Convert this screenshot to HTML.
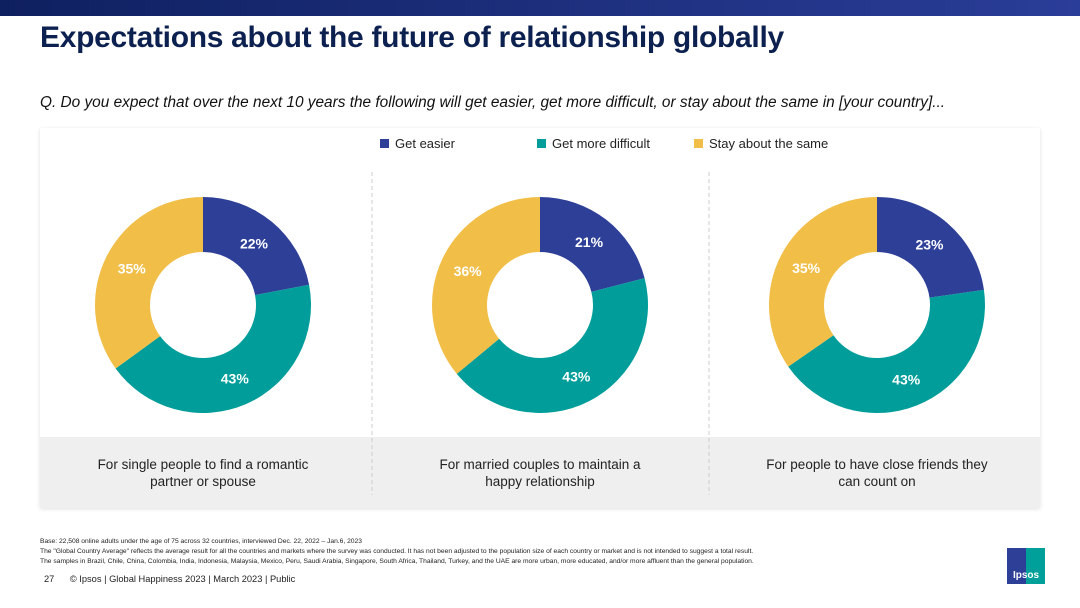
<!DOCTYPE html>
<html><head><meta charset="utf-8"><style>
body{margin:0;width:1080px;height:608px;overflow:hidden;background:#fff;font-family:"Liberation Sans",sans-serif;position:relative}
.abs{position:absolute}
.cap{position:absolute;top:456px;width:300px;text-align:center;font-size:13.5px;line-height:17px;color:#222}
.fn{position:absolute;left:40px;font-size:6.7px;color:#222;white-space:nowrap}
</style></head><body>
<div class="abs" style="left:0;top:0;width:1080px;height:16px;background:linear-gradient(90deg,#0f2060,#2a3d98)"></div>
<div class="abs" style="left:40px;top:21px;font-size:30px;font-weight:bold;color:#0d2150;letter-spacing:-0.3px">Expectations about the future of relationship globally</div>
<div class="abs" style="left:40px;top:94px;font-size:15.4px;font-style:italic;color:#111">Q. Do you expect that over the next 10 years the following will get easier, get more difficult, or stay about the same in [your country]...</div>
<div class="abs" style="left:40px;top:128px;width:1000px;height:380px;background:#fff;box-shadow:0 1px 4px rgba(0,0,0,0.12)"></div>
<div class="abs" style="left:40px;top:437px;width:1000px;height:71px;background:#efefef"></div>
<svg class="abs" style="left:0;top:0" width="1080" height="608" id="chart"></svg>
<div class="cap" style="left:53px">For single people to find a romantic<br>partner or spouse</div>
<div class="cap" style="left:390px">For married couples to maintain a<br>happy relationship</div>
<div class="cap" style="left:727px">For people to have close friends they<br>can count on</div>
<div class="fn" style="top:538px">Base: 22,508 online adults under the age of 75 across 32 countries, interviewed Dec. 22, 2022 – Jan.6, 2023</div>
<div class="fn" style="top:548px">The "Global Country Average" reflects the average result for all the countries and markets where the survey was conducted. It has not been adjusted to the population size of each country or market and is not intended to suggest a total result.</div>
<div class="fn" style="top:558px">The samples in Brazil, Chile, China, Colombia, India, Indonesia, Malaysia, Mexico, Peru, Saudi Arabia, Singapore, South Africa, Thailand, Turkey, and the UAE are more urban, more educated, and/or more affluent than the general population.</div>
<div class="abs" style="left:44px;top:574px;font-size:9.3px;color:#222">27&nbsp;&nbsp;&nbsp;&nbsp;&nbsp;&nbsp;© Ipsos | Global Happiness 2023 | March 2023 | Public</div>
<div class="abs" style="left:1007px;top:548px;width:38px;height:36px;background:linear-gradient(90deg,#2e3f98 50%,#00a09a 50%);color:#fff;font-size:10px;font-weight:bold;text-align:center;line-height:56px;overflow:hidden">Ipsos</div>
<script>
const categories=["Get easier","Get more difficult","Stay about the same"];
const chart1=[22,43,35];
const chart2=[21,43,36];
const chart3=[23,43,35];
const colors=["#2e3f98","#009d9a","#f1be48"];
const svg=document.getElementById('chart');
const NS="http://www.w3.org/2000/svg";
function mk(t,a){const e=document.createElementNS(NS,t);for(const k in a)e.setAttribute(k,a[k]);svg.appendChild(e);return e;}
const lx=[380,537,694];
categories.forEach((c,i)=>{
  const r=mk('rect',{x:lx[i],y:139,width:9,height:9,fill:colors[i]});
  
  
  const t=mk('text',{x:lx[i]+15,y:148,'font-size':13,fill:'#222','font-family':'Liberation Sans'});
  t.textContent=c;
  
  
});
[372,709].forEach(x=>{
  const l=mk('line',{x1:x,y1:172,x2:x,y2:495,stroke:'#ccc','stroke-dasharray':'4,3','stroke-width':1});
  
  
});
function donut(cx,cy,vals){
  const R=108,r=53;const tot=vals.reduce((a,b)=>a+b,0);let a0=0;
  vals.forEach((v,i)=>{
    const a1=a0+v/tot*2*Math.PI;
    const p=(a,rad)=>[cx+rad*Math.sin(a),cy-rad*Math.cos(a)];
    const [x0,y0]=p(a0,R),[x1,y1]=p(a1,R),[x2,y2]=p(a1,r),[x3,y3]=p(a0,r);
    const lg=(a1-a0)>Math.PI?1:0;
    const s=mk('path',{d:`M${x0},${y0}A${R},${R} 0 ${lg} 1 ${x1},${y1}L${x2},${y2}A${r},${r} 0 ${lg} 0 ${x3},${y3}Z`,fill:colors[i]});
    
    
    const [tx,ty]=p((a0+a1)/2,80);
    const t=mk('text',{x:tx,y:ty+5,'text-anchor':'middle','font-size':14,'font-weight':'bold',fill:'#fff','font-family':'Liberation Sans'});
    t.textContent=v+'%';
    
    
    a0=a1;
  });
}
donut(203,305,chart1);donut(540,305,chart2);donut(877,305,chart3);
</script>
</body></html>
